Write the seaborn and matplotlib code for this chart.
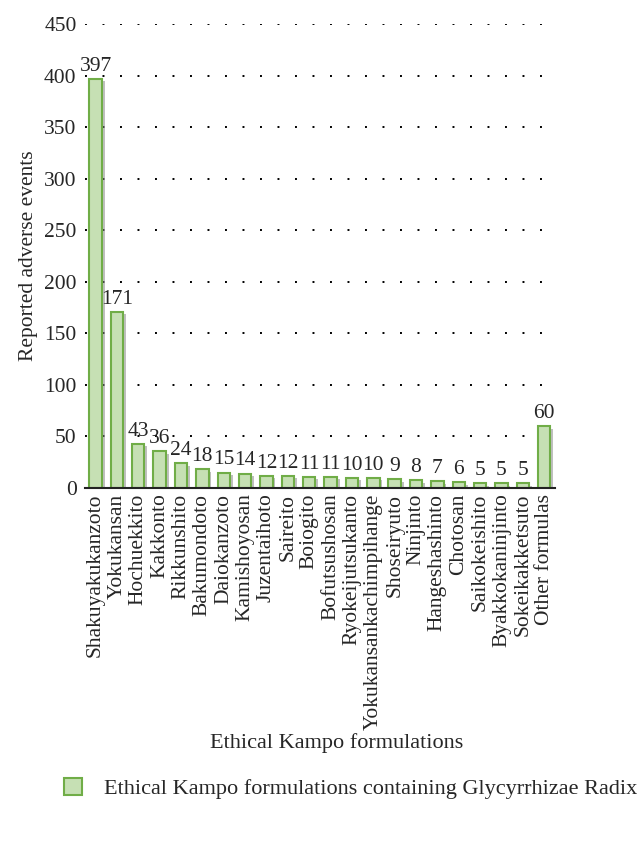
import numpy as np
import pandas as pd
import matplotlib
matplotlib.use("Agg")
import matplotlib.pyplot as plt
import matplotlib.patheffects as pe
import seaborn as sns

# === Datos ===
formulas = ["Shakuyakukanzoto", "Yokukansan", "Hochuekkito", "Kakkonto", "Rikkunshito",
            "Bakumondoto", "Daiokanzoto", "Kamishoyosan", "Juzentaihoto", "Saireito",
            "Boiogito", "Bofutsushosan", "Ryokeijutsukanto", "Yokukansankachimpihange",
            "Shoseiryuto", "Ninjinto", "Hangeshashinto", "Chotosan", "Saikokeishito",
            "Byakkokaninjinto", "Sokeikakketsuto", "Other formulas"]
events = [397, 171, 43, 36, 24, 18, 15, 14, 12, 12, 11, 11, 10, 10, 9, 8, 7, 6, 5, 5, 5, 60]
yticks = [0, 50, 100, 150, 200, 250, 300, 350, 400, 450]

df = pd.DataFrame({"formula": formulas, "events": events})

sns.set_theme(style="white")
plt.rcParams["font.family"] = ["Liberation Serif", "DejaVu Serif"]

fig = plt.figure(figsize=(6.43, 8.42), dpi=100)
ax = fig.add_axes([0.132, 0.4204, 0.731, 0.5511])

fill = "#c6e0b4"
edge = "#70ad47"
sns.barplot(data=df, x="formula", y="events", color=fill, edgecolor=edge,
            linewidth=1.5, width=0.58, saturation=1, ax=ax)

for p in ax.patches:
    p.set_path_effects([pe.SimplePatchShadow(offset=(2, -2), shadow_rgbFace="gray", alpha=0.5),
                        pe.Normal()])

# grid punteado
for v in yticks[1:]:
    ax.axhline(v, color="black", linestyle=(0, (1, 8)), linewidth=1.4, zorder=0)

ax.set_ylim(0, 450)
ax.set_xlim(-0.5, len(formulas) - 0.5)
ax.set_yticks(yticks)
ax.tick_params(axis="y", labelsize=15.5, pad=6, length=0)
ax.tick_params(axis="x", labelsize=15.5, rotation=90, length=0, pad=4)

for s in ["top", "right", "left"]:
    ax.spines[s].set_visible(False)
ax.spines["bottom"].set_color("#222222")
ax.spines["bottom"].set_linewidth(1.5)

# etiquetas de valor
for i, v in enumerate(events):
    ax.text(i, v + 3, str(v), ha="center", va="bottom", fontsize=15.5)

ax.set_ylabel("Reported adverse events", fontsize=15.5, labelpad=4)
ax.set_xlabel("Ethical Kampo formulations", fontsize=16)
ax.xaxis.set_label_coords(0.536, -0.528)

handle = plt.Rectangle((0, 0), 1, 1, facecolor=fill, edgecolor=edge, linewidth=1.5)
fig.legend([handle], ["Ethical Kampo formulations containing Glycyrrhizae Radix"],
           loc="center", bbox_to_anchor=(0.545, 0.064), frameon=False, fontsize=16,
           handlelength=0.8, handleheight=0.8, handletextpad=1.0)

fig.savefig("out.png", dpi=100)
